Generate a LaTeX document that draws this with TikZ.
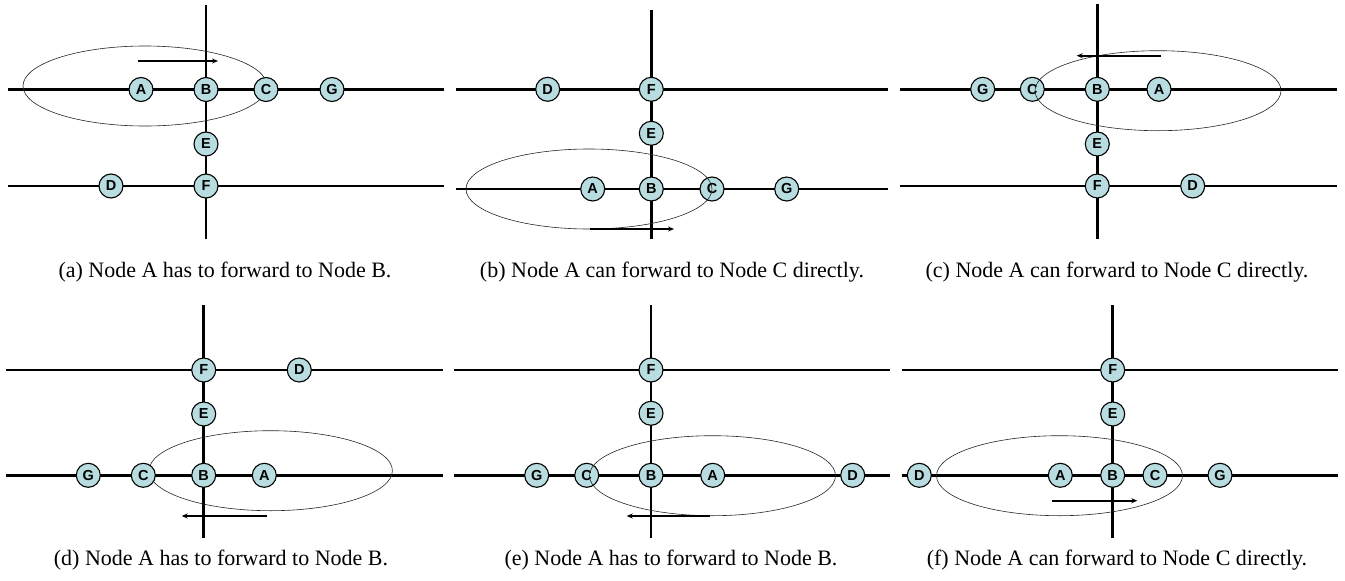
\documentclass[tikz,border=0pt]{standalone}
\usepackage{fontspec}
\setmainfont{Liberation Serif}
\newfontfamily\nodefont{Liberation Sans}[BoldFont={Liberation Sans Bold}]
\usetikzlibrary{arrows.meta}
\definecolor{nodefill}{RGB}{183,221,224}
\tikzset{
  veh/.style={circle,draw=black,line width=1.1pt,fill=nodefill,minimum size=24pt,inner sep=0pt,font=\nodefont\bfseries\fontsize{14.5}{14.5}\selectfont},
  road/.style={line width=2.7pt,black},
  rangeell/.style={line width=0.6pt,black!85},
  dirarrow/.style={line width=2pt,-{Stealth[length=6pt,width=5pt]}},
  capt/.style={font=\fontsize{22}{26}\selectfont,inner sep=0pt}
}
\begin{document}
\begin{tikzpicture}[x=1pt,y=-1pt]
\useasboundingbox (0,0) rectangle (1345,581);
% ---------- (a)
\coordinate (aL1) at (8,89.5); \coordinate (aR1) at (444,89.5);
\coordinate (aL2) at (8,186); \coordinate (aR2) at (444,186);
\coordinate (aT) at (206,5); \coordinate (aBt) at (206,239);
\draw[road] (aL1) -- (aR1); \draw[road] (aL2) -- (aR2); \draw[road] (aT) -- (aBt);
\coordinate (aEc) at (145,86);
\draw[rangeell] (aEc) ellipse [x radius=122pt, y radius=40pt];
\node[veh] (aA) at (141,89.5) {A};
\node[veh] (aB) at (206,89.5) {B};
\node[veh] (aC) at (266,89.5) {C};
\node[veh] (aG) at (332,89.5) {G};
\node[veh] (aE) at (206,144) {E};
\node[veh] (aD) at (111,186) {D};
\node[veh] (aF) at (206,186) {F};
\coordinate (aS) at (138,61); \coordinate (aX) at (218,61);
\draw[dirarrow] (aS) -- (aX);
\node[capt] (capa) at (225,272) {(a) Node A has to forward to Node B.};
% ---------- (b)
\coordinate (bL1) at (456,89.3); \coordinate (bR1) at (888,89.3);
\coordinate (bL2) at (456,189); \coordinate (bR2) at (888,189);
\coordinate (bT) at (651.3,10); \coordinate (bBt) at (651.3,239);
\draw[road] (bL1) -- (bR1); \draw[road] (bL2) -- (bR2); \draw[road] (bT) -- (bBt);
\node[veh] (bD) at (547.7,89.3) {D};
\node[veh] (bF) at (651.3,89.3) {F};
\node[veh] (bE) at (651.3,133.3) {E};
\node[veh] (bA) at (592.7,189) {A};
\node[veh] (bB) at (651.3,189) {B};
\node[veh] (bC) at (712,189) {C};
\node[veh] (bG) at (786.7,189) {G};
\coordinate (bEc) at (589,189);
\draw[rangeell] (bEc) ellipse [x radius=123pt, y radius=40pt];
\coordinate (bS) at (590,229); \coordinate (bX) at (674,229);
\draw[dirarrow] (bS) -- (bX);
\node[capt] (capb) at (672,272) {(b) Node A can forward to Node C directly.};
% ---------- (c)
\coordinate (cL1) at (900,89.3); \coordinate (cR1) at (1336.7,89.3);
\coordinate (cL2) at (900,186); \coordinate (cR2) at (1336.7,186);
\coordinate (cT) at (1097.3,4.3); \coordinate (cBt) at (1097.3,239);
\draw[road] (cL1) -- (cR1); \draw[road] (cL2) -- (cR2); \draw[road] (cT) -- (cBt);
\node[veh] (cG) at (982.7,89.3) {G};
\node[veh] (cC) at (1032.3,89.3) {C};
\node[veh] (cB) at (1097.3,89.3) {B};
\node[veh] (cA) at (1159,89.3) {A};
\node[veh] (cE) at (1097.3,144) {E};
\node[veh] (cF) at (1097.3,186) {F};
\node[veh] (cD) at (1192.7,186) {D};
\coordinate (cEc) at (1158,90.7);
\draw[rangeell] (cEc) ellipse [x radius=123pt, y radius=40pt];
\coordinate (cS) at (1160.7,55.7); \coordinate (cX) at (1076.7,55.7);
\draw[dirarrow] (cS) -- (cX);
\node[capt] (capc) at (1117,272) {(c) Node A can forward to Node C directly.};
% ---------- (d)
\coordinate (dL1) at (6,370); \coordinate (dR1) at (442.7,370);
\coordinate (dL2) at (6,475.3); \coordinate (dR2) at (442.7,475.3);
\coordinate (dT) at (203.7,305); \coordinate (dBt) at (203.7,537.7);
\draw[road] (dL1) -- (dR1); \draw[road] (dL2) -- (dR2); \draw[road] (dT) -- (dBt);
\coordinate (dEc) at (270.7,470.7);
\draw[rangeell] (dEc) ellipse [x radius=121.7pt, y radius=40pt];
\node[veh] (dF) at (203.7,370) {F};
\node[veh] (dD) at (299.3,370) {D};
\node[veh] (dE) at (203.7,414) {E};
\node[veh] (dG) at (88.3,475.3) {G};
\node[veh] (dC) at (143.3,475.3) {C};
\node[veh] (dB) at (203.7,475.3) {B};
\node[veh] (dA) at (264.3,475.3) {A};
\coordinate (dS) at (266.7,516); \coordinate (dX) at (181.7,516);
\draw[dirarrow] (dS) -- (dX);
\node[capt] (capd) at (221,560) {(d) Node A has to forward to Node B.};
% ---------- (e)
\coordinate (eL1) at (454,370); \coordinate (eR1) at (890,370);
\coordinate (eL2) at (454,475.3); \coordinate (eR2) at (890,475.3);
\coordinate (eT) at (651,305); \coordinate (eBt) at (651,537.7);
\draw[road] (eL1) -- (eR1); \draw[road] (eL2) -- (eR2); \draw[road] (eT) -- (eBt);
\node[veh] (eF) at (651,370) {F};
\node[veh] (eE) at (651,413.3) {E};
\node[veh] (eG) at (536.7,475.3) {G};
\node[veh] (eC) at (586.7,475.3) {C};
\node[veh] (eB) at (651,475.3) {B};
\node[veh] (eA) at (712.7,475.3) {A};
\node[veh] (eD) at (852.7,475.3) {D};
\coordinate (eEc) at (712.5,475.7);
\draw[rangeell] (eEc) ellipse [x radius=123pt, y radius=40pt];
\coordinate (eS) at (710,516); \coordinate (eX) at (626.7,516);
\draw[dirarrow] (eS) -- (eX);
\node[capt] (cape) at (671,560) {(e) Node A has to forward to Node B.};
% ---------- (f)
\coordinate (fL1) at (901.7,370); \coordinate (fR1) at (1338.3,370);
\coordinate (fL2) at (901.7,475.3); \coordinate (fR2) at (1338.3,475.3);
\coordinate (fT) at (1112.7,305); \coordinate (fBt) at (1112.7,537.7);
\draw[road] (fL1) -- (fR1); \draw[road] (fL2) -- (fR2); \draw[road] (fT) -- (fBt);
\coordinate (fEc) at (1059.5,475.7);
\draw[rangeell] (fEc) ellipse [x radius=123pt, y radius=40pt];
\node[veh] (fF) at (1112.7,370) {F};
\node[veh] (fE) at (1112.7,414) {E};
\node[veh] (fD) at (919.3,475.3) {D};
\node[veh] (fA) at (1060.3,475.3) {A};
\node[veh] (fB) at (1112.7,475.3) {B};
\node[veh] (fC) at (1155,475.3) {C};
\node[veh] (fG) at (1220,475.3) {G};
\coordinate (fS) at (1052.3,500.7); \coordinate (fX) at (1137.3,500.7);
\draw[dirarrow] (fS) -- (fX);
\node[capt] (capf) at (1117,560) {(f) Node A can forward to Node C directly.};
\end{tikzpicture}
\end{document}
